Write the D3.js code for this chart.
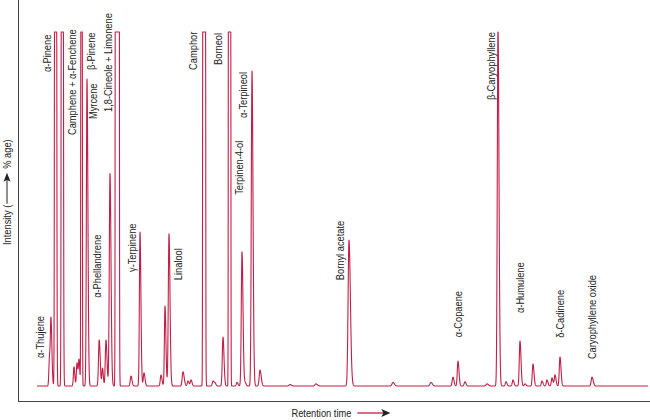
<!DOCTYPE html>
<html><head><meta charset="utf-8">
<script src="https://cdn.jsdelivr.net/npm/d3@7"></script>
<style>body{margin:0;background:#fff}svg{display:block}</style>
</head><body><svg id="c" width="650" height="420"></svg>
<script>
// Peaks (retention time units, intensity %; >100 = off scale)
const peakTime   = [1.25,1.4,1.85,2.52,3.7,4.0,4.2,4.45,5.0,6.22,6.55,6.9,7.3,8.02,9.4,10.3,10.7,12.4,12.8,13.2,14.6,15.1,15.4,16.7,17.6,17.8,18.6,19.25,20.0,20.5,20.8,21.5,22.3,25.3,27.9,31.2,35.6,39.4,41.6,42.1,42.8,45.0,46.1,46.9,47.6,48.3,48.8,49.6,50.5,51.0,51.5,51.8,52.3,55.5];
const peakHeight = [8,18,1000,1000,5.4,6.5,7.3,1000,86.7,13,5,13,60,100000,2.8,43.5,3.7,3.1,22.6,43,4,1.4,1.7,10000,1.4,0.8,13.8,10000,1,37.9,1,89,4.5,0.4,0.6,41.2,1,1,2.5,7,1.2,0.6,101,1.2,1.7,12.7,0.6,6.2,1.4,1.7,2.3,3.1,8.2,2.5];
const peakSigmaL = [0.06,0.06,0.05,0.05,0.06,0.06,0.06,0.035,0.06,0.07,0.06,0.07,0.07,0.055,0.07,0.06,0.07,0.07,0.06,0.07,0.08,0.07,0.07,0.045,0.07,0.07,0.07,0.04,0.07,0.07,0.07,0.07,0.08,0.1,0.1,0.09,0.1,0.1,0.08,0.07,0.08,0.1,0.07,0.07,0.07,0.07,0.07,0.07,0.07,0.07,0.07,0.07,0.07,0.08];
const peakSigmaR = [0.08,0.09,0.06,0.06,0.08,0.08,0.08,0.04,0.09,0.1,0.08,0.1,0.1,0.06,0.1,0.09,0.1,0.1,0.09,0.1,0.12,0.1,0.1,0.055,0.1,0.1,0.1,0.045,0.1,0.1,0.1,0.1,0.12,0.14,0.14,0.14,0.14,0.14,0.1,0.1,0.1,0.14,0.1,0.1,0.1,0.1,0.1,0.1,0.1,0.1,0.1,0.1,0.1,0.12];

// Compound labels
const labelNames = ["α-Thujene","α-Pinene","Camphene + α-Fenchene","β-Pinene","Myrcene","α-Phellandrene","1,8-Cineole + Limonene","γ-Terpinene","Linalool","Camphor","Borneol","Terpinen-4-ol","α-Terpineol","Bornyl acetate","α-Copaene","β-Caryophyllene","α-Humulene","δ-Cadinene","Caryophyllene oxide"];
const labelTime  = [0.3,0.97,3.47,5.37,5.57,6.0,7.1,9.47,14.1,15.6,18.1,20.2,20.63,30.3,42.07,45.37,48.3,52.3,55.47];
const labelLevel = [7.9,88.7,70.9,89.3,75.4,24.9,77.4,32.2,29.9,89.3,90.7,54.0,75.7,29.9,13.8,80.8,20.6,13.6,7.6];

const axisTitleY = ["Intensity (", "% age)"];
const axisTitleX = "Retention time";

const svg = d3.select("#c");
const FONT = "'Liberation Sans',Arial,sans-serif";
const FS = 11.5;
const x = d3.scaleLinear().domain([0, 61.1]).range([37, 648]);
const y = d3.scaleLinear().domain([0, 100]).range([386, 32]).clamp(true);

// horizontal compression so the text matches the narrow face of the reference
const probe = svg.append("text").attr("font-family",FONT).attr("font-size",FS).text(labelNames[6]);
const K = 99 / probe.node().getComputedTextLength();
probe.remove();

// sample the trace
const grid = d3.range(0, 61.1 + 1e-9, 0.01);
const trace = grid.map(t => {
  let v = 0;
  for (let i = 0; i < peakTime.length; i++) {
    const d = t - peakTime[i];
    const s = d < 0 ? peakSigmaL[i] : peakSigmaR[i];
    const z = d / s;
    if (Math.abs(z) < 12) v += peakHeight[i] * Math.exp(-0.5 * z * z);
  }
  return [t, Math.min(v, 100)];
});

// frame
svg.append("line").attr("x1",18.5).attr("x2",18.5).attr("y1",0).attr("y2",401.5)
  .attr("stroke","#444").attr("stroke-width",1);
svg.append("line").attr("x1",18).attr("x2",650).attr("y1",401.5).attr("y2",401.5)
  .attr("stroke","#444").attr("stroke-width",1);

svg.append("path").datum(trace)
  .attr("d", d3.line().x(d => x(d[0])).y(d => y(d[1])))
  .attr("fill","none").attr("stroke","#c41e47").attr("stroke-width",1.1)
  .attr("stroke-linejoin","round");

// labels
svg.append("g").selectAll("text").data(labelNames).join("text")
  .attr("transform",(d,i)=>`translate(${x(labelTime[i])},${y(labelLevel[i])}) rotate(-90) scale(${K},1)`)
  .attr("dy","0.35em")
  .attr("font-family",FONT).attr("font-size",FS).attr("fill","#222")
  .text(d=>d);

// y title
const gy = svg.append("g").attr("transform","translate(7,245) rotate(-90)");
const t1 = gy.append("text").attr("transform",`scale(${K},1)`).attr("dy","0.35em").attr("font-family",FONT).attr("font-size",FS).attr("fill","#222").text(axisTitleY[0]);
const w1 = t1.node().getComputedTextLength() * K;
gy.append("line").attr("x1",w1+1).attr("x2",w1+26).attr("y1",0).attr("y2",0).attr("stroke","#222").attr("stroke-width",1);
gy.append("path").attr("d",`M${w1+32},0 L${w1+23},-3.5 L${w1+25},0 L${w1+23},3.5 Z`).attr("fill","#222");
gy.append("text").attr("transform",`translate(${w1+36},0) scale(${K},1)`).attr("dy","0.35em").attr("font-family",FONT).attr("font-size",FS).attr("fill","#222").text(axisTitleY[1]);

// x title
const tx = svg.append("text").attr("transform",`translate(291.5,413) scale(${K},1)`).attr("dy","0.35em").attr("font-family",FONT).attr("font-size",FS).attr("fill","#222").text(axisTitleX);
const wx = tx.node().getComputedTextLength() * K;
const ax0 = 291.5 + wx + 6;
svg.append("line").attr("x1",ax0).attr("x2",ax0+26).attr("y1",413).attr("y2",413).attr("stroke","#c41e47").attr("stroke-width",1.3);
svg.append("path").attr("d",`M${ax0+33},413 L${ax0+24},409 L${ax0+26},413 L${ax0+24},417 Z`).attr("fill","#222");
</script></body></html>
